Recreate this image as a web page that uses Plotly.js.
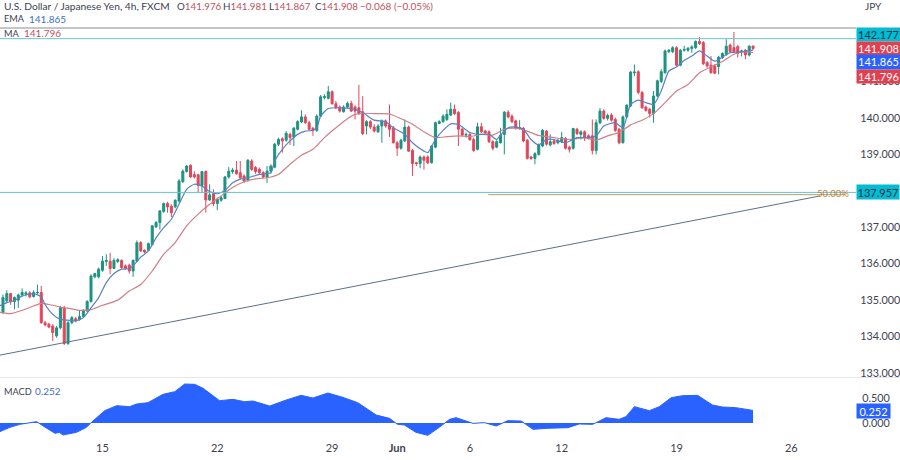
<!DOCTYPE html>
<html><head><meta charset="utf-8">
<script src="https://cdn.plot.ly/plotly-3.0.1.min.js"></script>
<style>html,body{margin:0;padding:0;background:#fff}#c{width:900px;height:460px}</style>
</head><body><div id="c"></div>
<script>
const opens=[134.66,134.98,135.18,134.96,135.00,135.14,135.16,135.20,135.10,135.20,135.21,134.38,134.34,134.29,134.02,134.24,134.79,133.81,134.38,134.49,134.47,134.55,134.70,134.96,135.64,135.64,135.82,136.06,136.07,135.87,136.06,136.09,135.94,135.96,135.80,136.07,136.58,136.37,136.37,136.53,137.01,137.13,137.43,137.65,137.58,137.56,137.72,138.25,138.53,138.70,138.45,138.44,138.15,138.53,137.75,137.92,137.65,137.74,137.79,138.38,138.53,138.57,138.50,138.41,138.29,138.82,138.64,138.59,138.50,138.38,138.54,
138.65,139.28,139.43,139.39,139.55,139.48,139.69,139.89,140.03,139.87,139.72,139.66,140.05,140.56,140.54,140.72,140.39,140.30,140.17,140.30,140.40,140.30,140.28,140.17,139.78,139.90,139.75,139.62,139.78,139.92,139.81,139.73,139.32,139.17,139.37,139.75,139.11,138.77,138.75,138.93,138.93,138.77,139.20,139.85,139.90,139.96,140.08,140.24,140.15,139.69,139.53,139.55,139.41,139.14,139.76,139.64,139.62,139.35,139.20,139.32,139.55,140.16,140.05,139.92,139.72,139.72,139.39,138.93,138.89,139.00,139.23,139.64,
139.26,139.37,139.32,139.35,139.44,139.20,139.17,139.69,139.55,139.62,139.51,139.51,139.11,139.87,140.19,139.99,140.08,139.96,139.69,139.32,140.03,140.33,141.24,141.27,140.70,140.30,140.24,140.12,140.60,141.00,141.24,141.82,141.82,141.93,141.45,141.86,141.86,141.91,141.93,142.10,142.07,141.52,141.45,141.43,141.41,141.66,141.75,142.00,141.93,141.96,141.82,141.86,141.73,141.976];
const closes=[135.07,135.18,134.96,135.07,135.14,135.21,135.20,135.09,135.21,135.21,134.38,134.32,134.26,134.11,134.24,134.79,133.81,134.38,134.52,134.43,134.55,134.72,134.96,135.66,135.73,135.85,136.07,136.09,135.87,136.09,136.11,135.89,135.87,135.80,136.09,136.58,136.35,136.32,136.55,137.04,137.13,137.45,137.65,137.56,137.40,137.74,138.27,138.54,138.68,138.38,138.38,138.15,138.53,137.75,137.89,137.65,137.77,137.81,138.38,138.54,138.57,138.47,138.36,138.27,138.84,138.59,138.53,138.50,138.38,138.54,138.68,
139.28,139.41,139.37,139.58,139.46,139.72,139.90,140.03,139.87,139.69,139.66,140.05,140.58,140.59,140.72,140.39,140.28,140.19,140.30,140.40,140.19,140.19,140.12,139.57,139.90,139.75,139.64,139.78,139.92,139.78,139.69,139.32,139.17,139.39,139.75,139.09,138.75,138.75,138.93,138.84,138.77,139.23,139.87,139.90,140.05,140.10,140.24,140.12,139.69,139.53,139.55,139.41,139.11,139.76,139.62,139.59,139.35,139.17,139.35,139.53,140.16,140.03,139.90,139.72,139.73,139.37,138.89,138.89,139.02,139.26,139.66,139.28,
139.35,139.30,139.39,139.46,139.17,139.14,139.71,139.57,139.62,139.46,139.46,139.11,139.87,140.19,139.99,140.07,139.94,139.66,139.32,140.03,140.35,141.26,141.26,140.70,140.28,140.21,140.12,140.60,141.02,141.27,141.84,141.86,141.93,141.45,141.86,141.88,141.91,141.95,142.10,142.04,141.49,141.43,141.24,141.23,141.67,141.77,141.97,141.82,141.82,141.77,141.84,141.73,141.97,141.908];
const highs=[135.15,135.27,135.20,135.10,135.18,135.32,135.25,135.25,135.27,135.43,135.39,134.43,134.38,134.34,134.29,134.84,134.84,134.43,134.56,134.54,134.72,134.75,135.00,135.71,135.75,135.89,136.21,136.26,136.30,136.15,136.15,136.12,135.98,136.00,136.12,136.64,136.62,136.39,136.58,137.06,137.17,137.47,137.68,137.70,137.63,137.77,138.32,138.59,138.71,138.73,138.54,138.47,138.54,138.56,138.18,138.04,137.81,137.86,138.41,138.65,138.63,138.82,138.82,138.45,138.87,138.87,138.68,138.64,138.54,138.68,138.73,
139.32,139.46,139.47,139.64,139.60,139.75,139.94,140.21,140.10,139.92,139.75,140.10,140.63,140.65,140.88,140.76,140.47,140.35,140.35,140.45,140.47,140.35,140.91,140.60,139.94,139.94,139.83,139.83,139.96,139.96,140.37,139.78,139.37,139.43,139.96,139.79,139.15,138.80,138.97,138.97,138.98,139.26,139.90,139.94,140.10,140.24,140.42,140.37,140.19,139.73,139.60,139.59,139.46,139.87,139.87,139.68,139.66,139.39,139.39,139.73,140.19,140.21,140.10,139.95,139.94,139.75,139.42,138.96,139.06,139.30,139.70,139.67,
139.55,139.41,139.42,139.62,139.48,139.24,139.73,139.73,139.66,139.66,139.55,139.96,139.96,140.27,140.24,140.12,140.13,140.01,139.73,140.07,140.38,141.29,141.47,141.31,140.74,140.34,140.28,140.74,141.05,141.34,141.88,141.89,141.97,141.97,141.89,141.98,141.95,142.00,142.13,142.22,142.11,141.56,141.70,141.48,141.71,141.80,142.16,142.04,142.36,142.00,141.88,141.89,142.00,141.981];
const lows=[134.62,134.95,134.87,134.75,134.79,135.10,135.10,135.05,135.07,135.16,134.35,134.28,134.23,133.88,133.97,134.20,133.77,133.77,134.34,134.39,134.43,134.52,134.67,134.93,135.60,135.60,135.78,135.94,135.71,135.85,136.02,135.87,135.84,135.73,135.64,136.05,136.32,136.29,136.35,136.50,136.99,136.94,137.40,137.40,137.28,137.52,137.68,138.22,138.50,138.36,138.34,137.95,137.95,137.40,137.72,137.58,137.47,137.70,137.77,138.34,138.47,138.44,138.32,138.22,138.25,138.54,138.47,138.46,138.34,138.22,138.47,
138.62,139.23,139.05,139.35,139.26,139.23,139.66,139.86,139.84,139.66,139.51,139.62,140.03,140.51,140.51,140.37,140.24,140.15,140.15,140.27,140.16,139.96,140.08,139.53,139.55,139.69,139.60,139.59,139.32,139.73,139.48,139.30,138.96,139.13,139.34,139.07,138.41,138.68,138.62,138.58,138.73,138.75,139.17,139.83,139.87,139.92,140.05,140.08,139.23,139.50,139.46,139.37,139.07,139.11,139.59,139.55,139.31,139.11,139.17,139.30,139.00,139.99,139.86,139.68,139.68,139.33,138.86,138.85,138.73,138.97,139.20,139.24,
139.22,139.26,139.28,139.31,139.13,139.05,139.13,139.53,139.41,139.37,139.41,139.00,139.00,139.83,139.95,139.93,139.90,139.62,139.28,139.30,139.99,140.30,141.15,140.65,140.25,140.17,140.01,139.87,140.58,140.96,141.22,141.78,141.78,141.42,141.42,141.82,141.82,141.79,141.89,142.00,141.45,141.38,141.22,141.20,141.20,141.62,141.71,141.78,141.78,141.66,141.69,141.61,141.69,141.867];

const maIdx=[-1,2,5,8,10,12,15,18,20,23,26,30,33,36,39,42,45,48,51,54,57,60,63,66,69,72,75,78,81,84,87,90,92,94,97,101,104,107,110,113,116,119,122,125,128,131,134,137,140,142,144,148,152,155,158,161,164,167,170,173,176,179,182,185,188,191,194,196];
const maVals=[134.67,134.63,134.72,134.84,134.91,134.88,134.81,134.76,134.72,134.74,134.86,135.00,135.25,135.43,135.80,136.26,136.58,137.04,137.36,137.63,137.86,138.09,138.25,138.33,138.36,138.45,138.73,138.98,139.14,139.46,139.73,139.98,140.10,140.13,140.12,140.11,139.98,139.83,139.62,139.46,139.49,139.51,139.49,139.55,139.53,139.69,139.72,139.64,139.52,139.49,139.46,139.41,139.46,139.39,139.51,139.60,139.81,139.94,140.12,140.42,140.74,140.92,141.24,141.40,141.55,141.75,141.82,141.796];
const emaIdx=[-1,1,3,5,8,10,11,13,15,17,19,21,23,25,27,29,31,33,34,36,38,40,42,44,46,48,50,52,54,56,58,60,62,64,67,70,71,73,75,77,79,81,82,83,85,88,91,94,97,100,102,105,107,110,111,113,115,117,119,122,124,127,129,130,132,134,136,138,140,142,144,147,150,153,155,157,160,162,164,166,168,170,172,174,176,178,180,182,184,186,188,190,193,196];
const emaVals=[134.84,134.93,134.99,135.11,135.18,135.09,134.88,134.61,134.47,134.45,134.43,134.52,134.79,135.07,135.48,135.73,135.85,135.87,135.94,136.18,136.35,136.71,136.99,137.22,137.63,138.04,138.18,138.13,137.98,137.92,138.01,138.22,138.32,138.36,138.45,138.50,138.82,139.14,139.37,139.55,139.64,139.66,139.73,140.05,140.26,140.28,140.26,140.15,139.94,139.90,139.73,139.55,139.32,139.09,139.05,139.41,139.66,139.84,139.82,139.60,139.55,139.55,139.41,139.53,139.73,139.75,139.69,139.41,139.26,139.41,139.41,139.32,139.46,139.46,139.51,139.78,139.87,139.73,140.37,140.49,140.42,140.37,140.74,141.29,141.40,141.58,141.70,141.84,141.70,141.56,141.67,141.79,141.82,141.865];
const macdIdx=[-0.8,1.8,4.4,8.8,10.5,13.6,14.7,15.7,19.2,21.8,23.1,26.6,29.7,33.1,34.9,37.9,41.8,44.9,47.5,50.1,52.3,56.6,60.1,63.1,65.3,69.7,74,77.9,81,84.9,88.8,92.7,97.5,101,103.1,104.9,107.9,111,114,116.7,118.4,121,122.8,125.8,128.9,131.9,135.4,138.5,141.9,147.6,150.6,154.1,157.6,161,162.8,165,168.9,171.5,174.6,177.6,181.5,185.4,188,191.5,196];
const macdVals=[-0.173,-0.087,-0.027,0.027,-0.06,-0.207,-0.187,-0.24,-0.187,-0.087,0.013,0.247,0.347,0.327,0.38,0.407,0.573,0.627,0.78,0.773,0.693,0.447,0.473,0.427,0.44,0.34,0.46,0.553,0.5,0.6,0.513,0.407,0.16,0.093,-0.027,-0.04,-0.187,-0.247,-0.087,0.073,0.107,0.047,-0.007,0.007,-0.06,0.047,0.04,-0.127,-0.107,-0.093,-0.02,-0.027,0.107,0.073,0.127,0.327,0.247,0.327,0.507,0.547,0.553,0.36,0.32,0.307,0.252];

const trendIdx=[-0.8,213.5];
const trendVals=[133.49,137.86];
const fibIdx=[126.8,220];
const fibVals=[137.895,137.895];
const levelHigh=142.177, levelLow=137.957;
const priceTicks=[133,134,135,136,137,139,140,141];
const macdTicks=[0,0.5];
const dateIdx=[26,56,86,103,122,146,176,206];
const dateLabels=['15','22','29','<b>Jun</b>','6','12','19','26'];

const FONT='Lato, sans-serif', TXT='#3d4250', RED='#e0404f', BLUE='#2962ff', TEAL='#00bcd4', VAL='#c2505e', VB='#3f6fc0';
const W=856, TOP=28, BOT=440;
const py=p=>(BOT-p)/(BOT-TOP), px=p=>p/W;
const idx=opens.map((_,i)=>i);
const box=(t,top,bottom,bg,fg,right)=>({xref:'paper',yref:'paper',x:px(856),xanchor:'left',y:py((top+bottom)/2),yanchor:'middle',text:t,showarrow:false,
  width:(right||899)-856,height:bottom-top,bgcolor:bg,borderpad:0,align:'center',font:{family:FONT,size:11,color:fg}});
const label=(t,x,y,c,s,a)=>({xref:'paper',yref:'paper',x:px(x),xanchor:a||'left',y:py(y),yanchor:'middle',text:t,showarrow:false,borderpad:0,font:{family:FONT,size:s||11,color:c||TXT}});

const traces=[
 {type:'scatter',mode:'lines',x:macdIdx,y:macdVals,xaxis:'x',yaxis:'y2',fill:'tozeroy',fillcolor:BLUE,line:{color:BLUE,width:1},hoverinfo:'skip'},
 {type:'scatter',mode:'lines',x:trendIdx,y:trendVals,line:{color:'#5b7089',width:1},hoverinfo:'skip'},
 {type:'scatter',mode:'lines',x:fibIdx,y:fibVals,line:{color:'#b5a273',width:1},hoverinfo:'skip'},
 {type:'candlestick',x:idx,open:opens,high:highs,low:lows,close:closes,whiskerwidth:0,
  increasing:{line:{color:'#1b9480',width:1},fillcolor:'#1b9480'},decreasing:{line:{color:'#e2465a',width:1},fillcolor:'#e2465a'},hoverinfo:'skip'},
 {type:'scatter',mode:'lines',x:maIdx,y:maVals,line:{color:'#cf7f88',width:1.2,shape:'spline',smoothing:0.6},hoverinfo:'skip'},
 {type:'scatter',mode:'lines',x:emaIdx,y:emaVals,line:{color:'#5b80c4',width:1.2,shape:'spline',smoothing:0.6},hoverinfo:'skip'}
];
const layout={
 width:900,height:460,margin:{l:0,r:44,t:TOP,b:460-BOT,pad:0},paper_bgcolor:'#fff',plot_bgcolor:'#fff',showlegend:false,boxgap:0.25,
 font:{family:FONT,size:10.8,color:TXT},
 xaxis:{range:[-0.78,222.9],showgrid:false,zeroline:false,showline:false,tickmode:'array',tickvals:dateIdx,ticktext:dateLabels,ticks:'',tickfont:{size:11,color:TXT,family:FONT},rangeslider:{visible:false},anchor:'y2',automargin:false},
 yaxis:{domain:[(BOT-377)/(BOT-TOP),1],range:[132.89,142.47],side:'right',showgrid:false,zeroline:false,showline:false,tickmode:'array',tickvals:priceTicks,ticktext:priceTicks.map(p=>p.toFixed(3)),ticks:'outside',ticklen:1,tickcolor:'rgba(0,0,0,0)',automargin:false},
 yaxis2:{domain:[0,(BOT-378)/(BOT-TOP)],range:[-0.34,0.9],side:'right',showgrid:false,zeroline:false,showline:false,tickmode:'array',tickvals:macdTicks,ticktext:macdTicks.map(p=>p.toFixed(3)),ticks:'outside',ticklen:3,tickcolor:'rgba(0,0,0,0)',automargin:false},
 shapes:[
  {type:'line',xref:'paper',yref:'paper',x0:0,x1:1,y0:1,y1:1,line:{color:'#8a8c94',width:1}},
  {type:'line',xref:'paper',yref:'paper',x0:0,x1:900/856,y0:py(377.5),y1:py(377.5),line:{color:'#e4e6ea',width:1}},
  {type:'line',xref:'paper',yref:'y',x0:0,x1:1,y0:levelHigh,y1:levelHigh,line:{color:'#62c6d0',width:1}},
  {type:'line',xref:'paper',yref:'y',x0:0,x1:1,y0:levelLow,y1:levelLow,line:{color:'#62c6d0',width:1}}
 ],
 annotations:[
  label('U.S. Dollar / Japanese Yen, 4h, FXCM',3,6,TXT,10.2),
  label('O<span style="color:'+VAL+'">141.976</span>',176,6,TXT,9.8),
  label('H<span style="color:'+VAL+'">141.981</span>',222,6,TXT,9.8),
  label('L<span style="color:'+VAL+'">141.867</span>',268,6,TXT,9.8),
  label('C<span style="color:'+VAL+'">141.908</span>',314,6,TXT,9.8),
  label('−0.068 (−0.05%)',359,6,VAL,10),
  label('EMA',3,19,TXT,9.2),
  label('141.865',28,19,VB,10),
  label('MA',3,33,TXT,9.2),
  label('141.796',23,33,VAL,10),
  label('MACD',3,391,TXT,9.2),
  label('0.252',34,391,VB,10),
  label('JPY',864,6,TXT,10),
  label('50.00%',816,193,'#c4803f',9.5),
  box('142.177',28,41,TEAL,'#10303a'),
  box('141.908',42,55,RED,'#fff'),
  box('141.865',55.5,69,BLUE,'#fff'),
  box('141.796',70,83,RED,'#fff'),
  box('137.957',185,199,TEAL,'#10303a',898),
  box('0.252',404,418,BLUE,'#fff',889)
 ]
};
Plotly.newPlot('c',traces,layout,{displayModeBar:false,staticPlot:true});
</script></body></html>
